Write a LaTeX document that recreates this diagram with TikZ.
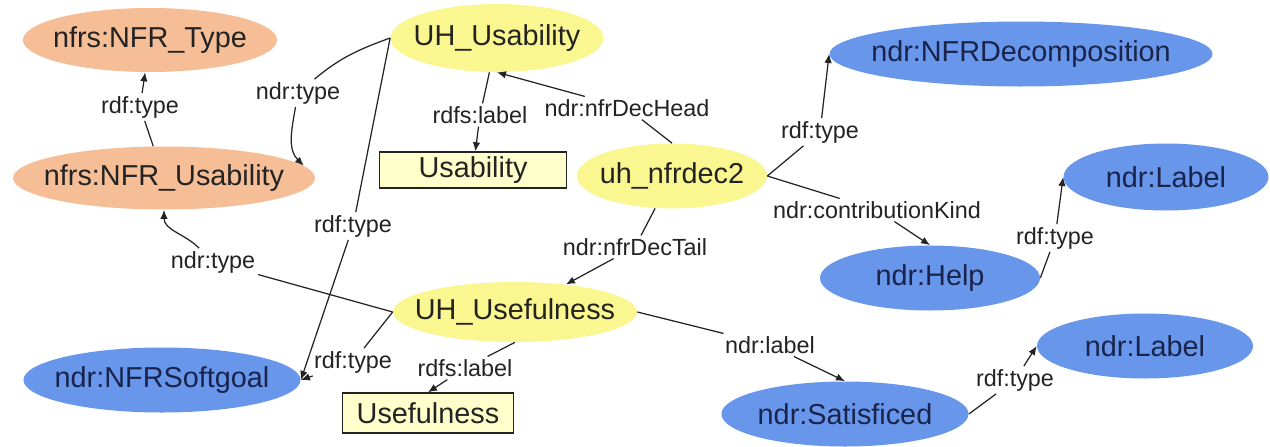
\documentclass[tikz,border=0pt]{standalone}
\usepackage{fontspec}
\setmainfont{Liberation Sans}
\usepackage{tikz}
\usetikzlibrary{
	shapes.geometric,
	arrows.meta,
	positioning,
	calc
}
\definecolor{peach}{RGB}{246,190,150}
\definecolor{lemon}{RGB}{250,247,145}
\definecolor{cornflower}{RGB}{103,150,234}
\definecolor{cream}{RGB}{255,255,204}
\definecolor{ink}{RGB}{35,35,35}
\definecolor{navy}{RGB}{25,35,75}

% texte centre sans largeur (la taille vient du minimum width)
\newcommand{\ctr}[1]{\makebox[0pt]{#1}}

\tikzstyle{nfr} = [ellipse, fill=peach, inner sep=0pt, text=ink, font=\fontsize{16.4}{18}\selectfont]
\tikzstyle{inst} = [ellipse, fill=lemon, inner sep=0pt, text=ink, font=\fontsize{16.4}{18}\selectfont]
\tikzstyle{cls} = [ellipse, fill=cornflower, inner sep=0pt, text=navy, font=\fontsize{16.4}{18}\selectfont]
\tikzstyle{lit} = [rectangle, draw=ink, fill=cream, line width=0.8pt, inner sep=0pt, text=ink, font=\fontsize{16.4}{18}\selectfont]
\tikzstyle{prop} = [inner sep=1.5pt, text=ink, font=\fontsize{13.3}{15}\selectfont]
\tikzstyle{rel} = [draw=ink, line width=0.7pt]
\tikzstyle{arr} = [rel, -{Latex[length=1.8mm, width=1.5mm]}]

\begin{document}
\begin{tikzpicture}[x=0.2mm, y=0.2mm]

		\fill[white] (0,0) rectangle (1270,446);
		\useasboundingbox (0,0) rectangle (1270,446);

		% ====== Noeuds NFR ======
		\node[nfr, minimum width=5.08cm, minimum height=1.28cm] (type) at (150,406) {\ctr{nfrs:NFR\_Type}};
		\node[nfr, minimum width=6.04cm, minimum height=1.26cm] (nfrusab) at (164,268) {\ctr{nfrs:NFR\_Usability}};

		% ====== Instances ======
		\node[inst, minimum width=4.26cm, minimum height=1.36cm] (uhusab) at (497,408) {\ctr{UH\_Usability}};
		\node[inst, minimum width=3.8cm, minimum height=1.3cm] (nfrdec) at (672,270) {\ctr{uh\_nfrdec2}};
		\node[inst, minimum width=4.88cm, minimum height=1.2cm] (uhuse) at (515,134) {\ctr{UH\_Usefulness}};

		% ====== Litteraux ======
		\node[lit, minimum width=3.74cm, minimum height=0.72cm] (usabbox) at (473,276) {Usability};
		\node[lit, minimum width=3.42cm, minimum height=0.8cm] (usebox) at (428,33) {Usefulness};

		% ====== Classes ndr ======
		\node[cls, minimum width=7.66cm, minimum height=1.3cm] (decomp) at (1021,392) {\ctr{ndr:NFRDecomposition}};
		\node[cls, minimum width=4.1cm, minimum height=1.34cm] (label1) at (1166,269) {\ctr{ndr:Label}};
		\node[cls, minimum width=4.4cm, minimum height=1.3cm] (help) at (930,168) {\ctr{ndr:Help}};
		\node[cls, minimum width=5.54cm, minimum height=1.3cm] (softgoal) at (162,66) {\ctr{ndr:NFRSoftgoal}};
		\node[cls, minimum width=4.94cm, minimum height=1.3cm] (satisf) at (845,32) {\ctr{ndr:Satisficed}};
		\node[cls, minimum width=4.32cm, minimum height=1.3cm] (label2) at (1145,100) {\ctr{ndr:Label}};

		% ====== Proprietes ======
		\node[prop] (l1) at (140,339) {rdf:type};
		\node[prop] (l2) at (298,353) {ndr:type};
		\node[prop] (l3) at (353,220) {rdf:type};
		\node[prop] (l4) at (480,331) {rdfs:label};
		\node[prop] (l5) at (627,338) {ndr:nfrDecHead};
		\node[prop] (l6) at (820,314) {rdf:type};
		\node[prop] (l7) at (877,236) {ndr:contributionKind};
		\node[prop] (l8) at (635,199) {ndr:nfrDecTail};
		\node[prop] (l9) at (1055,208) {rdf:type};
		\node[prop] (l10) at (213,184) {ndr:type};
		\node[prop] (l11) at (353,84) {rdf:type};
		\node[prop] (l12) at (465,78) {rdfs:label};
		\node[prop] (l13) at (770,101) {ndr:label};
		\node[prop] (l14) at (1015,66) {rdf:type};

		% ====== Arcs ======
		\draw[rel] (nfrusab) -- (l1);
		\draw[arr] (l1) -- (type);

		\draw[rel] (uhusab.west) to[out=200, in=40] (l2);
		\draw[arr] (l2) to[out=-100, in=135] (nfrusab.5);

		\draw[rel] (uhusab.west) -- (l3);
		\draw[arr] (l3) -- (softgoal.east);

		\draw[rel] (uhusab) -- (l4);
		\draw[arr] (l4) -- (usabbox);

		\draw[rel] (nfrdec.north) -- (l5);
		\draw[arr] (l5) -- (uhusab.south);

		\draw[rel] (nfrdec.east) -- (l6);
		\draw[arr] (l6) -- (decomp.west);

		\draw[rel] (nfrdec.east) -- (l7);
		\draw[arr] (l7) -- (help.north);

		\draw[rel] (nfrdec) -- (l8);
		\draw[arr] (l8) -- (uhuse);

		\draw[rel] (help.east) -- (l9);
		\draw[arr] (l9) -- (label1.west);

		\draw[rel] (uhuse.west) -- (l10);
		\draw[arr] (l10) to[out=135, in=-90] (nfrusab.south);

		\draw[rel] (uhuse.west) -- (l11);
		\draw[arr] (l11) -- (softgoal.east);

		\draw[rel] (uhuse.south) -- (l12);
		\draw[arr] (l12) -- (usebox.north);

		\draw[rel] (uhuse.east) -- (l13);
		\draw[arr] (l13) -- (satisf.north);

		\draw[rel] (satisf.east) -- (l14);
		\draw[arr] (l14) -- (label2.west);

\end{tikzpicture}
\end{document}
